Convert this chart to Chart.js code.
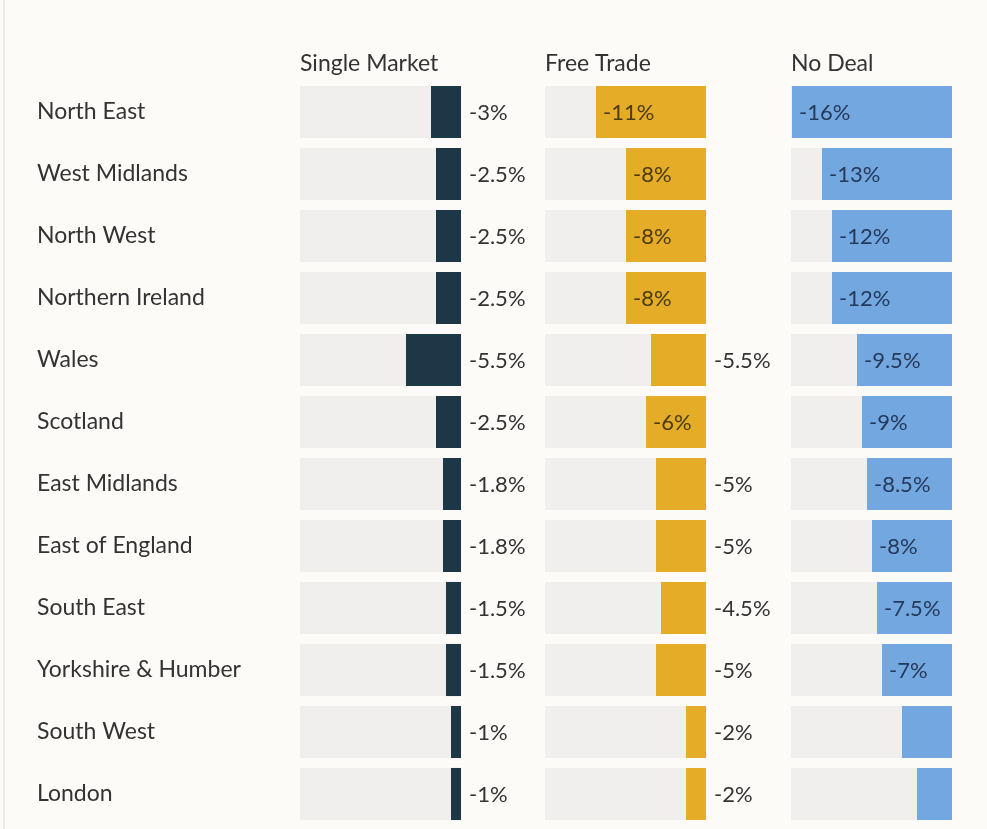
<!DOCTYPE html>
<html lang="en">
<head>
  <meta charset="UTF-8" />
  <title>Brexit GDP impact by region</title>
  <script src="https://cdn.jsdelivr.net/npm/chart.js"></script>
  <style>
    body {
      margin: 0;
      background: #fdfbf8;
      font-family: Lato, sans-serif;
    }
    #wrap {
      position: relative;
      width: 987px;
      height: 829px;
      overflow: hidden;
    }
    #wrap::before {
      content: '';
      position: absolute;
      left: 3px;
      top: 0;
      bottom: 0;
      width: 2px;
      background: #ececec;
    }
    .panel {
      position: absolute;
      top: 0;
      height: 829px;
    }
    #smBox { left: 0; width: 540px; }
    #ftBox { left: 540px; width: 245px; }
    #ndBox { left: 785px; width: 202px; }
  </style>
</head>
<body>
  <div id="wrap">
    <div class="panel" id="smBox"><canvas id="smChart"></canvas></div>
    <div class="panel" id="ftBox"><canvas id="ftChart"></canvas></div>
    <div class="panel" id="ndBox"><canvas id="ndChart"></canvas></div>
  </div>

  <script>
    // regions and % change in GDP under each scenario
    const regions = [
      'North East', 'West Midlands', 'North West', 'Northern Ireland', 'Wales', 'Scotland',
      'East Midlands', 'East of England', 'South East', 'Yorkshire & Humber', 'South West', 'London'
    ];
    const singleMarket = [-3, -2.5, -2.5, -2.5, -5.5, -2.5, -1.8, -1.8, -1.5, -1.5, -1, -1];
    const freeTrade = [-11, -8, -8, -8, -5.5, -6, -5, -5, -4.5, -5, -2, -2];
    const noDeal = [-16, -13, -12, -12, -9.5, -9, -8.5, -8, -7.5, -7, -5, -3.5];

    const AXIS_MIN = -16.1;
    const TEXT = '#333333';

    // draws the value next to / inside each bar
    const valueLabels = {
      id: 'valueLabels',
      afterDatasetsDraw(chart, args, opts) {
        const meta = chart.getDatasetMeta(1);
        const vals = chart.data.datasets[1].data;
        const ctx = chart.ctx;
        ctx.save();
        ctx.font = '22px Lato, sans-serif';
        ctx.textBaseline = 'middle';
        ctx.textAlign = 'left';
        meta.data.forEach((bar, i) => {
          const v = vals[i];
          const txt = v + '%';
          if (opts.insideFrom !== null && v <= opts.insideFrom) {
            ctx.fillStyle = opts.insideColor;
            ctx.fillText(txt, bar.x + 7, bar.y + 1);
          } else if (opts.outside) {
            ctx.fillStyle = TEXT;
            ctx.fillText(txt, bar.base + 8, bar.y + 1);
          }
        });
        ctx.restore();
      }
    };

    function makeChart(id, title, values, color, pad, labelOpts, showRegions) {
      return new Chart(document.getElementById(id), {
        type: 'bar',
        data: {
          labels: regions,
          datasets: [
            {
              data: regions.map(() => AXIS_MIN),
              backgroundColor: '#f0efed',
              grouped: false,
              order: 2
            },
            {
              data: values,
              backgroundColor: color,
              grouped: false,
              order: 1
            }
          ]
        },
        options: {
          indexAxis: 'y',
          responsive: true,
          maintainAspectRatio: false,
          animation: false,
          barPercentage: 0.84,
          categoryPercentage: 1,
          layout: { padding: pad },
          plugins: {
            legend: { display: false },
            tooltip: { enabled: false },
            valueLabels: labelOpts
          },
          scales: {
            x: {
              position: 'top',
              min: AXIS_MIN,
              max: 0,
              grid: { display: false },
              border: { display: false },
              ticks: { display: false },
              title: {
                display: true,
                text: title,
                align: 'start',
                color: TEXT,
                padding: 0,
                font: { family: 'Lato', size: 23 }
              },
              afterFit(scale) { scale.height = 31; }
            },
            y: {
              display: showRegions,
              grid: { display: false },
              border: { display: false },
              ticks: {
                crossAlign: 'far',
                color: TEXT,
                font: { family: 'Lato', size: 23 }
              },
              afterFit(scale) {
                if (showRegions) scale.width = 263;
                scale.paddingTop = 0;
                scale.paddingBottom = 0;
              }
            }
          }
        },
        plugins: [valueLabels]
      });
    }

    makeChart('smChart', 'Single Market', singleMarket, '#1d3747',
      { left: 37, right: 79, top: 50, bottom: 4 },
      { insideFrom: null, outside: true }, true);

    makeChart('ftChart', 'Free Trade', freeTrade, '#e4ac27',
      { left: 5, right: 79, top: 50, bottom: 4 },
      { insideFrom: -6, outside: true, insideColor: '#4a3b10' }, false);

    makeChart('ndChart', 'No Deal', noDeal, '#72a7e0',
      { left: 6, right: 35, top: 50, bottom: 4 },
      { insideFrom: -7, outside: false, insideColor: '#26395a' }, false);
  </script>
</body>
</html>
